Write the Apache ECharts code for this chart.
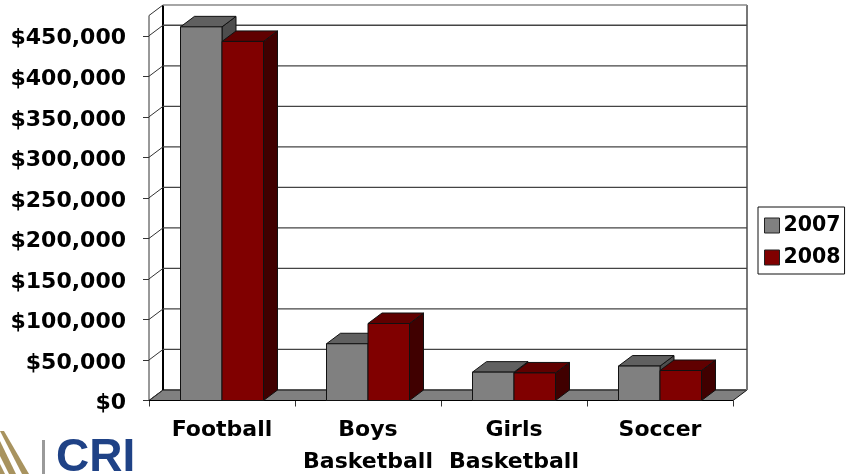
<!DOCTYPE html>
<html>
<head>
<meta charset="utf-8">
<style>html,body{margin:0;padding:0;background:#fff;overflow:hidden}#c{width:846px;height:474px}</style>
<script src="https://cdn.jsdelivr.net/npm/echarts@6/dist/echarts.min.js"></script>
</head>
<body>
<div id="c"></div>
<script>
var categories = ['Football', 'Boys\nBasketball', 'Girls\nBasketball', 'Soccer'];
var values2007 = [461000, 70000, 35000, 42500];
var values2008 = [443000, 95000, 34000, 37000];
var yTicks = [0, 50000, 100000, 150000, 200000, 250000, 300000, 350000, 400000, 450000];
var yTop = 475000;

var DX = 14, DY = -10.5, BAR = 41.5, FONT = '"DejaVu Sans","Verdana",sans-serif';
var chart = echarts.init(document.getElementById('c'), null, {renderer: 'canvas'});

function poly(pts, fill, stroke, w) {
  return {type: 'polygon', shape: {points: pts}, style: {fill: fill, stroke: stroke, lineWidth: w === undefined ? 1 : w, lineJoin: 'miter'}};
}
function line(a, b, color, w) {
  return {type: 'line', shape: {x1: a[0], y1: a[1], x2: b[0], y2: b[1]}, style: {stroke: color, lineWidth: w}};
}

function wallItem(params, api) {
  var cs = params.coordSys, v = api.value(0);
  var y = api.coord([0, v])[1], L = cs.x, R = cs.x + cs.width;
  var kids = [
    line([L, y], [L + DX, y + DY], '#333', 1),
    line([L + DX, y + DY], [R + DX, y + DY], v === yTop ? '#888' : '#444', 1.3)
  ];
  if (v === 0) {
    var yt = api.coord([0, yTop])[1];
    kids.unshift(poly([[L, y], [L + DX, y + DY], [R + DX, y + DY], [R, y]], '#808080', '#111', 1));
    kids.push(line([L + DX, y + DY], [L + DX, yt + DY], '#000', 2));
    kids.push(line([R + DX, y + DY], [R + DX, yt + DY], '#777', 2));
    kids.push(line([L, y], [L, yt], '#333', 1));
    kids.push(line([L, y], [R, y], '#000', 1));
  }
  return {type: 'group', children: kids};
}

function barRenderer(front, side, top, offset) {
  return function (params, api) {
    var c = api.coord([api.value(0), api.value(1)]);
    var base = api.coord([api.value(0), 0]);
    var x0 = c[0] + offset * BAR, x1 = x0 + BAR, y0 = c[1], y1 = base[1];
    return {type: 'group', children: [
      poly([[x1, y0], [x1 + DX, y0 + DY], [x1 + DX, y1 + DY], [x1, y1]], side, '#111'),
      poly([[x0, y0], [x0 + DX, y0 + DY], [x1 + DX, y0 + DY], [x1, y0]], top, '#111'),
      poly([[x0, y0], [x1, y0], [x1, y1], [x0, y1]], front, '#111')
    ]};
  };
}

var gold = '#a8935f';
var option = {
  animation: false,
  backgroundColor: '#fff',
  grid: {left: 149, top: 15.5, width: 584, height: 385, outerBoundsMode: 'none'},
  legend: {
    left: 758, top: 207, orient: 'vertical', itemWidth: 15, itemHeight: 15, itemGap: 11,
    padding: [8, 4, 6, 6], borderColor: '#111', borderWidth: 1, backgroundColor: '#fff',
    icon: 'rect',
    textStyle: {fontFamily: FONT, fontWeight: 'bold', fontSize: 20.5, color: '#000', padding: [0, 0, 0, -1]},
    data: [
      {name: '2007', itemStyle: {color: '#808080', borderColor: '#222', borderWidth: 1}},
      {name: '2008', itemStyle: {color: '#800000', borderColor: '#222', borderWidth: 1}}
    ]
  },
  xAxis: {
    type: 'category', data: categories, boundaryGap: true,
    axisLine: {show: false},
    axisTick: {show: true, alignWithLabel: false, length: 6, lineStyle: {color: '#333'}},
    axisLabel: {interval: 0, margin: 14, fontFamily: FONT, fontWeight: 'bold', fontSize: 22, color: '#000', lineHeight: 32, verticalAlign: 'top'}
  },
  yAxis: {
    type: 'value', min: 0, max: yTop, interval: 50000,
    splitLine: {show: false},
    axisLine: {show: false},
    axisTick: {show: true, length: 6, inside: false, customValues: yTicks, lineStyle: {color: '#333'}},
    axisLabel: {customValues: yTicks, margin: 23, fontFamily: FONT, fontWeight: 'bold', fontSize: 22, color: '#000', verticalAlign: 'top', lineHeight: 6,
      formatter: function (v) { return '$' + v.toLocaleString('en-US'); }}
  },
  graphic: [
    {type: 'rect', shape: {x: 42, y: 440, width: 3, height: 34}, style: {fill: '#9a9a9a'}},
    {type: 'text', left: 56, top: 435, style: {text: 'CRI', fill: '#1f4286', fontFamily: '"Liberation Sans",sans-serif', fontWeight: 'bold', fontSize: 46}},
    {type: 'polygon', shape: {points: [[0, 431], [4, 431], [29, 474], [22, 474]]}, style: {fill: gold}},
    {type: 'polygon', shape: {points: [[0, 441], [16, 474], [9, 474], [0, 456]]}, style: {fill: gold}},
    {type: 'polygon', shape: {points: [[0, 464], [5, 474], [0, 474]]}, style: {fill: gold}}
  ],
  series: [
    {type: 'custom', name: 'walls', silent: true, clip: false, z: 1, renderItem: wallItem,
      data: yTicks.concat([yTop]).map(function (v) { return [v]; }), encode: {x: -1, y: 0}},
    {type: 'custom', name: '2007', clip: false, z: 2, itemStyle: {color: '#808080'},
      renderItem: barRenderer('#808080', '#4d4d4d', '#606060', -1),
      data: values2007.map(function (v, i) { return [i, v]; }), encode: {x: 0, y: 1}},
    {type: 'custom', name: '2008', clip: false, z: 3, itemStyle: {color: '#800000'},
      renderItem: barRenderer('#800000', '#400000', '#600000', 0),
      data: values2008.map(function (v, i) { return [i, v]; }), encode: {x: 0, y: 1}}
  ]
};
chart.setOption(option);
</script>
</body>
</html>
